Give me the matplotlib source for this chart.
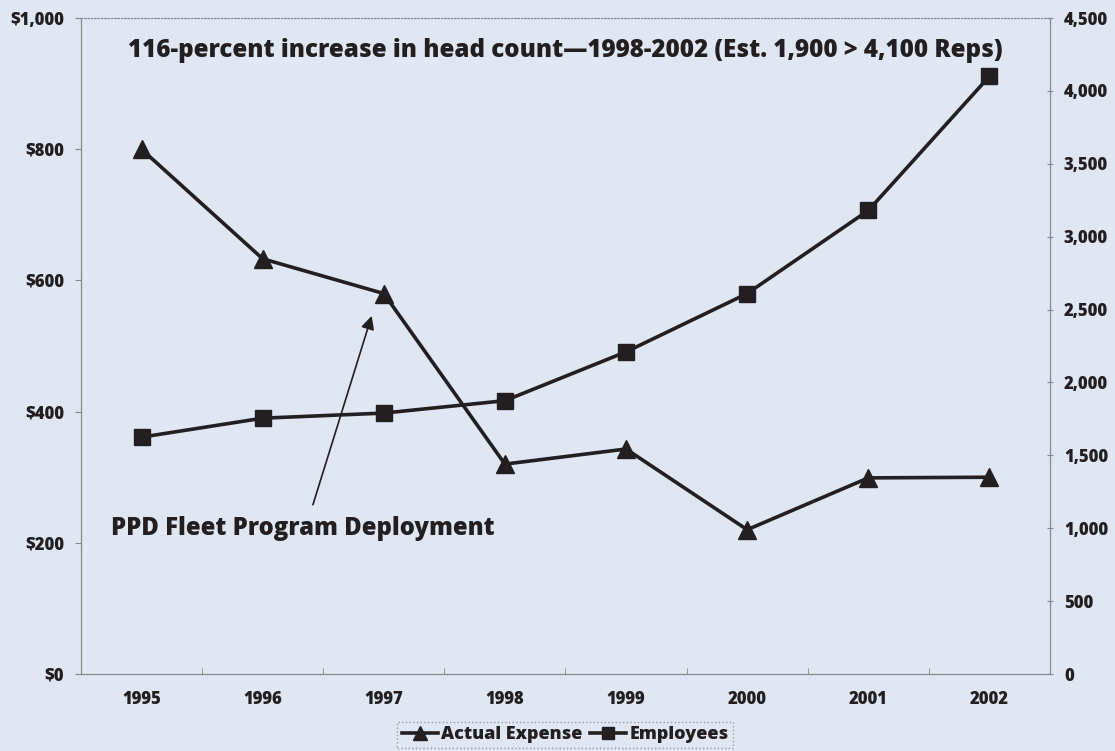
import matplotlib.pyplot as plt
import numpy as np

plt.rcParams['font.family'] = ['Open Sans', 'DejaVu Sans']
plt.rcParams['font.weight'] = 'bold'

years = ['1995', '1996', '1997', '1998', '1999', '2000', '2001', '2002']
expense = [800, 633, 580, 320, 343, 220, 299, 300]
employees = [1625, 1755, 1790, 1875, 2210, 2610, 3180, 4100]

bg = '#e0e7f2'
ink = '#231f20'
W = 800  # extra bold

fig = plt.figure(figsize=(11.15, 7.51), dpi=100, facecolor=bg)
ax = fig.add_axes([0.0726, 0.1025, 0.8691, 0.8735], facecolor=bg)
ax2 = ax.twinx()

x = np.arange(len(years))
l1, = ax.plot(x, expense, color=ink, lw=2.6, marker='^', ms=13, label='Actual Expense')
l2, = ax2.plot(x, employees, color=ink, lw=2.6, marker='s', ms=11, label='Employees')

ax.set_xlim(-0.5, len(years) - 0.5)
ax.set_ylim(0, 1000)
ax2.set_ylim(0, 4500)
ax.set_xticks(x)
ax.set_xticklabels(years)
ax.set_xticks(np.arange(len(years) + 1) - 0.5, minor=True)
ax.tick_params(axis='x', which='major', length=0, pad=12, labelsize=12)
ax.tick_params(axis='x', which='minor', length=4, direction='in', color='#888888')

ax.set_yticks(np.arange(0, 1001, 200))
ax.set_yticklabels(['$0', '$200', '$400', '$600', '$800', '$1,000'])
ax.tick_params(axis='y', length=4, color='#888888', labelsize=12, pad=8)
ax2.set_yticks(np.arange(0, 4501, 500))
ax2.set_yticklabels([f'{v:,}' for v in range(0, 4501, 500)])
ax2.tick_params(axis='y', length=4, direction='inout', color='#888888', labelsize=12, pad=8)

for a in (ax, ax2):
    for s in a.spines.values():
        s.set_color('#888888')
        s.set_linewidth(0.8)
        s.set_linestyle((0, (4, 1, 1, 1)))
ax.spines['top'].set_linestyle((0, (1, 2)))
ax2.spines['top'].set_linestyle((0, (1, 2)))

for lab in ax.get_xticklabels() + ax.get_yticklabels() + ax2.get_yticklabels():
    lab.set_fontweight(W)
    lab.set_color(ink)

ax.text(0.5, 0.95, '116-percent increase in head count\u20141998-2002 (Est. 1,900 > 4,100 Reps)',
        transform=ax.transAxes, ha='center', va='center', fontsize=17.4,
        fontweight=W, color=ink)

ax.text(-0.25, 222, 'PPD Fleet Program Deployment', ha='left', va='center',
        fontsize=17.2, fontweight=W, color=ink)
ax.annotate('', xy=(1.90, 546), xytext=(1.415, 258),
            arrowprops=dict(arrowstyle='-|>', color=ink, lw=1.2,
                            mutation_scale=20, shrinkA=0, shrinkB=0))

leg = fig.legend(handles=[l1, l2], loc='lower center', bbox_to_anchor=(0.507, -0.008),
                 ncol=2, frameon=True, fontsize=13, handlelength=2.0,
                 handletextpad=0.2, columnspacing=0.4, borderpad=0.25,
                 markerscale=0.8, fancybox=False)
leg.get_frame().set_facecolor(bg)
leg.get_frame().set_edgecolor('#888888')
leg.get_frame().set_linestyle(':')
for t in leg.get_texts():
    t.set_fontweight(W)
    t.set_color(ink)

plt.savefig('out.png', dpi=100, facecolor=bg)
